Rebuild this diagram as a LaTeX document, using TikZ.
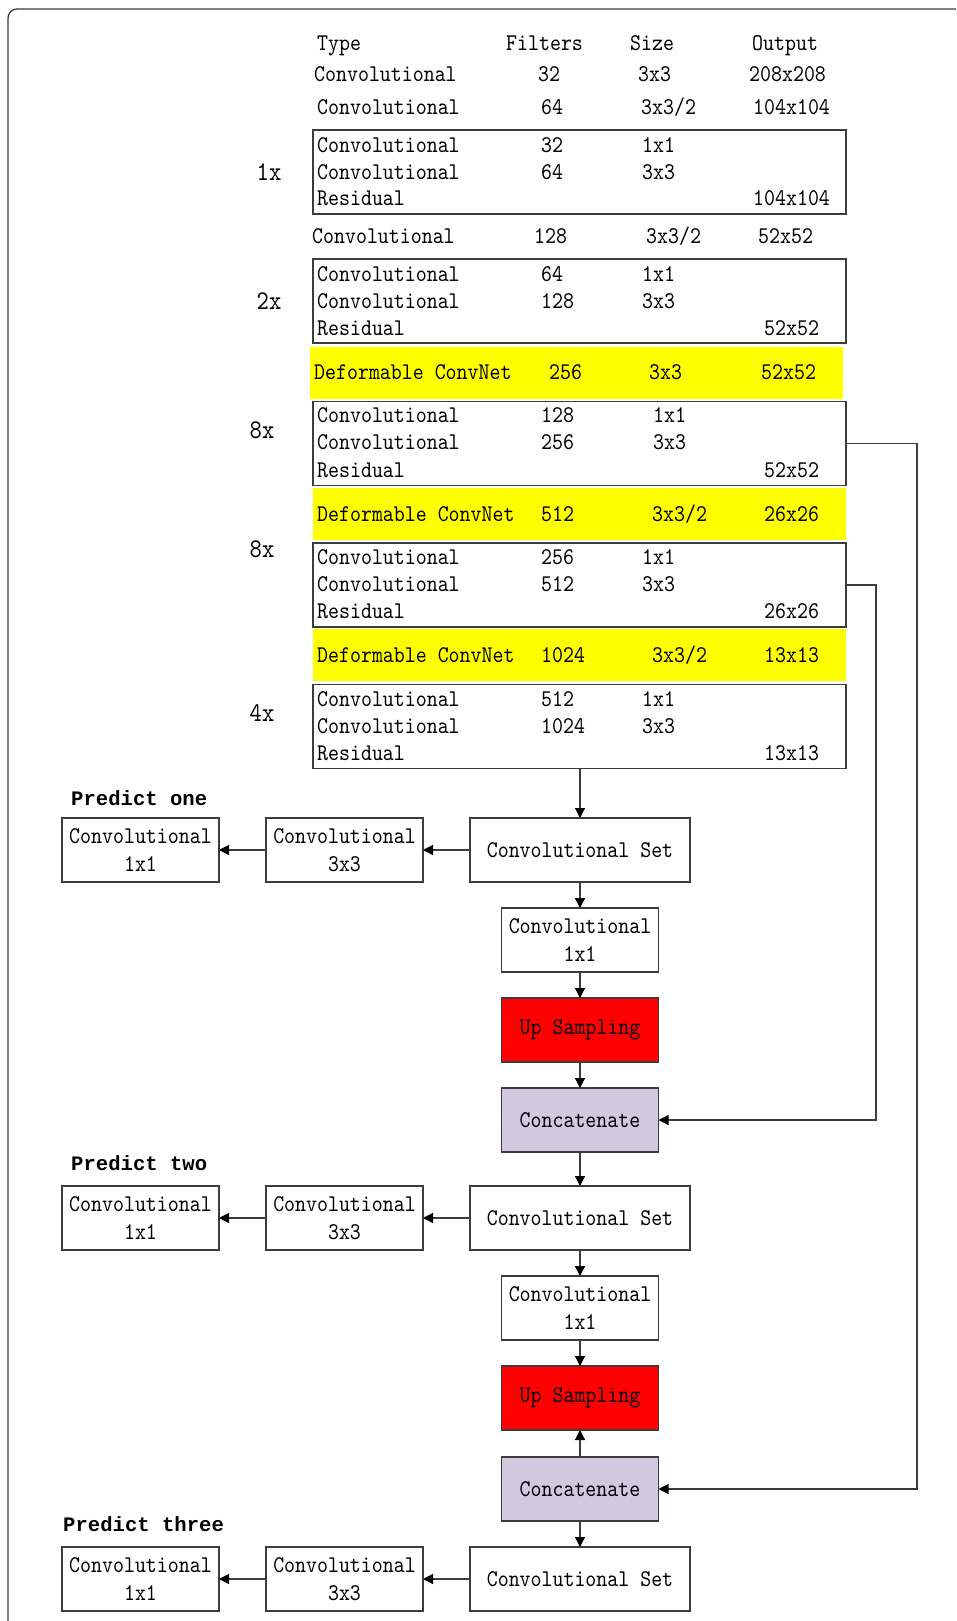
\documentclass[tikz,border=0pt]{standalone}
\usepackage{fontspec}
\newfontfamily\simfont{lmmono10-regular.otf}[FakeStretch=0.87]
\newfontfamily\predfont{Liberation Mono}
\usetikzlibrary{arrows.meta,positioning}
\definecolor{Edge}{HTML}{3C3C3C}
\definecolor{DcnYellow}{HTML}{FFFF00}
\definecolor{UpRed}{HTML}{FF0000}
\definecolor{Lavender}{HTML}{D1C9E0}

\begin{document}
\begin{tikzpicture}[x=1pt,y=-1pt,node distance=26pt,
every node/.style={font=\simfont\fontsize{24}{27.5}\selectfont,inner sep=0pt},
cell/.style={anchor=west,text height=15pt,text depth=0pt},
resbox/.style={draw=Edge,line width=1.2pt,outer sep=0pt,minimum width=533pt,minimum height=84pt},
dcnbar/.style={fill=DcnYellow,minimum width=533pt,minimum height=52pt},
mult/.style={font=\simfont\fontsize{27}{30}\selectfont,text height=17pt,text depth=0pt},
predict/.style={anchor=west,text height=12pt,text depth=0pt,font=\predfont\bfseries\fontsize{20.6}{24}\selectfont},
blk/.style={draw=Edge,line width=1.2pt,outer sep=0pt,minimum width=157pt,minimum height=64pt,align=center},
setbox/.style={blk,minimum width=220pt},
upbox/.style={blk,fill=UpRed},
catbox/.style={blk,fill=Lavender},
link/.style={draw=Edge,line width=1.2pt,-{Triangle[length=10pt,width=10pt,color=black]}}]
\useasboundingbox (0,0) rectangle (956,1621);
\begin{scope}
\clip (0,0) rectangle (956,1621);
\draw[Edge,line width=1.3pt,rounded corners=9pt] (8,9) rectangle (990,1660);
\end{scope}
% residual groups and deformable layers
\node[resbox] (res1) at (579.5,172) {};
\node[resbox] (res2) at (579.5,301) {};
\node[dcnbar] (dcn1) at (576.5,373) {};
\node[resbox] (res3) at (579.5,443.5) {};
\node[dcnbar] (dcn2) at (579.5,513.5) {};
\node[resbox] (res4) at (579.5,585) {};
\node[dcnbar] (dcn3) at (579.5,655) {};
\node[resbox] (res5) at (579.5,726.5) {};
\node[mult] (m1) at (269,172) {1x};
\node[mult] (m2) at (269,301) {2x};
\node[mult] (m3) at (262,430) {8x};
\node[mult] (m4) at (262,549) {8x};
\node[mult] (m5) at (262,713) {4x};
% table rows
\foreach \ry/\xa/\ta/\xb/\tb/\xc/\tc/\xd/\td [count=\i] in {
43/317/Type/506/Filters/630/Size/752/Output,
74/314/Convolutional/538/32/638/3x3/749/208x208,
107/317/Convolutional/541/64/641/{3x3/2}/753/104x104,
145/317/Convolutional/541/32/642/1x1/753/{},
172/317/Convolutional/541/64/642/3x3/753/{},
198/317/Residual/541/{}/642/{}/753/104x104,
236/312/Convolutional/534/128/646/{3x3/2}/758/52x52,
274/317/Convolutional/541/64/642/1x1/764/{},
301/317/Convolutional/541/128/642/3x3/764/{},
328/317/Residual/541/{}/642/{}/764/52x52,
372/314/Deformable ConvNet/549/256/649/3x3/761/52x52,
415/317/Convolutional/541/128/653/1x1/764/{},
442/317/Convolutional/541/256/653/3x3/764/{},
470/317/Residual/541/{}/653/{}/764/52x52,
514/317/Deformable ConvNet/541/512/652/{3x3/2}/764/26x26,
557/317/Convolutional/541/256/642/1x1/764/{},
584/317/Convolutional/541/512/642/3x3/764/{},
611/317/Residual/541/{}/642/{}/764/26x26,
655/317/Deformable ConvNet/541/1024/652/{3x3/2}/764/13x13,
699/317/Convolutional/541/512/642/1x1/764/{},
726/317/Convolutional/541/1024/642/3x3/764/{},
753/317/Residual/541/{}/642/{}/764/13x13}{
\node[cell] (ty\i) at (\xa,\ry) {\ta};
\node[cell] (fi\i) at (\xb,\ry) {\tb};
\node[cell] (sz\i) at (\xc,\ry) {\tc};
\node[cell] (op\i) at (\xd,\ry) {\td};
}
% detection heads
\node[setbox] (setA) at (580,850) {Convolutional Set};
\node[blk,left=47pt of setA] (c3A) {Convolutional\\3x3};
\node[blk,left=47pt of c3A] (c1A) {Convolutional\\1x1};
\node[predict] (p1) at (71,799) {Predict one};
\node[blk,below=26pt of setA] (midA) {Convolutional\\1x1};
\node[upbox,below=of midA] (upA) {Up Sampling};
\node[catbox,below=of upA] (catA) {Concatenate};
\node[setbox,below=34pt of catA] (setB) {Convolutional Set};
\node[blk,left=47pt of setB] (c3B) {Convolutional\\3x3};
\node[blk,left=47pt of c3B] (c1B) {Convolutional\\1x1};
\node[predict] (p2) at (71,1164) {Predict two};
\node[blk,below=of setB] (midB) {Convolutional\\1x1};
\node[upbox,below=of midB] (upB) {Up Sampling};
\node[catbox,below=27pt of upB] (catB) {Concatenate};
\node[setbox,below=of catB] (setC) {Convolutional Set};
\node[blk,left=47pt of setC] (c3C) {Convolutional\\3x3};
\node[blk,left=47pt of c3C] (c1C) {Convolutional\\1x1};
\node[predict] (p3) at (63,1525) {Predict three};
% connectors
\draw[link] (res5.south -| setA.north) -- (setA.north);
\draw[link] (setA) -- (c3A);\draw[link] (c3A) -- (c1A);
\draw[link] (setA) -- (midA);\draw[link] (midA) -- (upA);\draw[link] (upA) -- (catA);
\draw[link] (catA) -- (setB);
\draw[link] (setB) -- (c3B);\draw[link] (c3B) -- (c1B);
\draw[link] (setB) -- (midB);\draw[link] (midB) -- (upB);\draw[link] (catB) -- (upB);
\draw[link] (catB) -- (setC);
\draw[link] (setC) -- (c3C);\draw[link] (c3C) -- (c1C);
\draw[link] (res4.east) -- ++(30,0) |- (catA.east);
\draw[link] (res3.east) -- ++(71,0) |- (catB.east);
\end{tikzpicture}
\end{document}
